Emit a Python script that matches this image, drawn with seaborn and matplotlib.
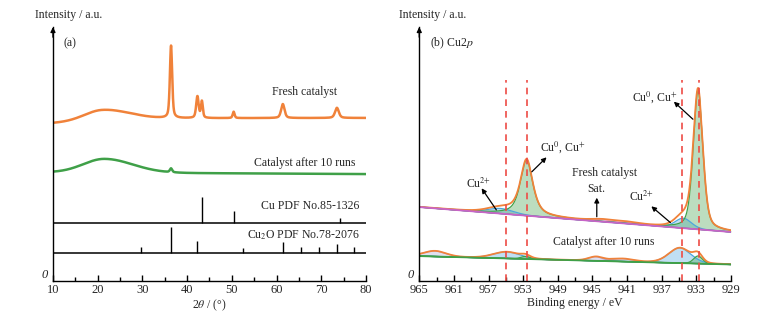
import numpy as np
import pandas as pd
import matplotlib
matplotlib.use("Agg")
import matplotlib.pyplot as plt
import seaborn as sns

# ---- XRD (a): peak parameters (intensity in a.u., 0-100 frame) ----
two_theta_range = [10, 80]

fresh_bg_x = [10, 28, 80]
fresh_bg_y = [62.2, 64.1, 64.2]
fresh_hump = [21.0, 4.0, 4.0, 5.5]          # centre, height, sigma left, sigma right
fresh_pos = [36.4, 42.3, 43.3, 50.4, 61.4, 73.5]
fresh_int = [28.5, 8.5, 6.5, 2.5, 5.5, 4.0]
fresh_fwhm = [0.6, 0.65, 0.5, 0.5, 0.9, 1.0]

used_bg_x = [10, 80]
used_bg_y = [42.8, 42.1]
used_hump = [21.5, 5.4, 4.7, 6.3]
used_pos = [36.4]
used_int = [1.5]
used_fwhm = [0.6]

cu_pdf_base = 23.0
cu_pdf_pos = [43.3, 50.4, 74.1]
cu_pdf_int = [10.2, 4.7, 1.9]

cu2o_pdf_base = 11.0
cu2o_pdf_pos = [29.6, 36.4, 42.3, 52.5, 61.4, 65.5, 69.6, 73.5, 77.4]
cu2o_pdf_int = [2.5, 10.3, 4.9, 2.1, 4.2, 2.2, 2.2, 3.6, 2.4]

# ---- XPS (b) Cu2p: fitted components ----
be_range = [929, 965]
bg_be = [929, 965]
fresh_xps_bg = [19.3, 29.1]
fresh_cu0_pos = [932.8, 952.6]
fresh_cu0_int = [54.8, 22.0]
fresh_cu0_fwhm = [1.3, 1.7]
fresh_cu0_eta = [0.4, 0.7]
fresh_cu2_pos = [934.5, 955.6]
fresh_cu2_int = [3.9, 2.0]
fresh_cu2_fwhm = [2.2, 3.5]
fresh_sat_pos = [943.8, 941.0]
fresh_sat_int = [0.8, 0.6]
fresh_sat_fwhm = [3.0, 3.0]

used_xps_bg = [6.5, 9.8]
used_cu0_pos = [932.8, 952.7]
used_cu0_int = [3.0, 1.0]
used_cu0_fwhm = [1.2, 1.2]
used_cu2_pos = [934.9, 954.9]
used_cu2_int = [6.0, 2.6]
used_cu2_fwhm = [3.0, 3.6]
used_sat_pos = [963.2, 944.6, 941.5]
used_sat_int = [2.2, 1.6, 1.1]
used_sat_fwhm = [3.0, 2.0, 3.0]

dashed_be = [955.0, 952.6, 934.7, 932.7]

c_orange = '#F0823A'
c_green = '#3FA048'
c_blue = '#4DA6DD'
c_magenta = '#C864C8'
c_lav = '#A8A4D4'
c_red = '#EE4B45'


def pv(x, c, h, w, eta=0.3):
    lor = 1.0 / (1.0 + ((x - c) / (w / 2.0)) ** 2)
    gau = np.exp(-4 * np.log(2) * ((x - c) / w) ** 2)
    return h * (eta * lor + (1 - eta) * gau)


def hump(x, c, h, sl, sr):
    s = np.where(x < c, sl, sr)
    return h * np.exp(-0.5 * ((x - c) / s) ** 2)


def xrd_curve(x, bgx, bgy, hp, pos, inten, fw):
    y = np.interp(x, bgx, bgy) + hump(x, *hp)
    for c, h, w in zip(pos, inten, fw):
        y = y + pv(x, c, h, w, 0.5)
    return y


sns.set_theme(style='ticks')
plt.rcParams['font.family'] = ['Liberation Serif', 'DejaVu Serif']
plt.rcParams['mathtext.fontset'] = 'stix'
fs = 8.5

fig = plt.figure(figsize=(7.59, 3.18), dpi=100)
ax1 = fig.add_axes([0.0698, 0.1164, 0.4124, 0.7986])
ax2 = fig.add_axes([0.5524, 0.1164, 0.4107, 0.7986])

# ---------------- (a) XRD ----------------
tt = np.linspace(two_theta_range[0], two_theta_range[1], 3501)
df_xrd = pd.DataFrame({
    'tt': tt,
    'fresh': xrd_curve(tt, fresh_bg_x, fresh_bg_y, fresh_hump, fresh_pos, fresh_int, fresh_fwhm),
    'used': xrd_curve(tt, used_bg_x, used_bg_y, used_hump, used_pos, used_int, used_fwhm),
})
sns.lineplot(data=df_xrd, x='tt', y='fresh', ax=ax1, color=c_orange, lw=1.8, sort=False)
sns.lineplot(data=df_xrd, x='tt', y='used', ax=ax1, color=c_green, lw=1.8, sort=False)

ax1.hlines([cu_pdf_base, cu2o_pdf_base], 10, 80, color='black', lw=1.1)
ax1.vlines(cu_pdf_pos, cu_pdf_base, [cu_pdf_base + v for v in cu_pdf_int], color='black', lw=1.0)
ax1.vlines(cu2o_pdf_pos, cu2o_pdf_base, [cu2o_pdf_base + v for v in cu2o_pdf_int], color='black', lw=1.0)

ax1.text(73.5, 74.4, 'Fresh catalyst', ha='right', va='center', fontsize=fs)
ax1.text(77.6, 46.5, 'Catalyst after 10 runs', ha='right', va='center', fontsize=fs)
ax1.text(78.5, 29.5, 'Cu PDF No.85-1326', ha='right', va='center', fontsize=fs)
ax1.text(78.5, 18.1, 'Cu$_2$O PDF No.78-2076', ha='right', va='center', fontsize=fs)
ax1.text(13.9, 93.7, '(a)', ha='center', va='center', fontsize=fs)

ax1.set_xlim(10, 80)
ax1.set_xticks(range(10, 81, 10))
ax1.set_xticks(range(15, 80, 10), minor=True)
ax1.set_xlabel(r'2$\theta$ / (°)', fontsize=fs, labelpad=1)

# ---------------- (b) XPS ----------------
be = np.linspace(be_range[0], be_range[1], 2001)


def xps_panel(ax, bg, cu0, cu2, sat, bg_color):
    base = np.interp(be, bg_be, bg)
    comps = []
    for pos, inten, fw, col in sat:
        for c, h, w in zip(pos, inten, fw):
            comps.append((pv(be, c, h, w, 0.2), col))
    for c, h, w in zip(cu2[0], cu2[1], cu2[2]):
        comps.append((pv(be, c, h, w, 0.2), c_blue))
    for c, h, w, e in zip(cu0[0], cu0[1], cu0[2], cu0[3]):
        comps.append((pv(be, c, h, w, e), c_green))
    total = base.copy()
    for comp, col in comps:
        ax.fill_between(be, base, base + comp, color=col, alpha=0.35, lw=0)
        sns.lineplot(x=be, y=base + comp, ax=ax, color=col, lw=0.9, sort=False)
        total = total + comp
    sns.lineplot(x=be, y=total, ax=ax, color=c_orange, lw=1.3, sort=False)
    sns.lineplot(x=be, y=base, ax=ax, color=bg_color, lw=1.3, sort=False)


xps_panel(ax2, fresh_xps_bg,
          (fresh_cu0_pos, fresh_cu0_int, fresh_cu0_fwhm, fresh_cu0_eta),
          (fresh_cu2_pos, fresh_cu2_int, fresh_cu2_fwhm),
          [(fresh_sat_pos, fresh_sat_int, fresh_sat_fwhm, '#E89AD0')],
          c_magenta)
xps_panel(ax2, used_xps_bg,
          (used_cu0_pos, used_cu0_int, used_cu0_fwhm, [0.2, 0.2]),
          (used_cu2_pos, used_cu2_int, used_cu2_fwhm),
          [(used_sat_pos, used_sat_int, used_sat_fwhm, c_lav)],
          c_green)

ax2.vlines(dashed_be, 0, 79, color=c_red, lw=1.2, linestyles=(0, (4, 3)))

arrow = dict(arrowstyle='-|>', color='black', lw=0.9, mutation_scale=7, shrinkA=0, shrinkB=0)
ax2.annotate('', xy=(935.6, 70.6), xytext=(933.4, 63.7), arrowprops=arrow)
ax2.text(937.8, 72.6, 'Cu$^{0}$, Cu$^{{+}}$', ha='center', va='center', fontsize=fs)
ax2.annotate('', xy=(950.3, 48.7), xytext=(952.0, 43.0), arrowprops=arrow)
ax2.text(948.4, 52.9, 'Cu$^{0}$, Cu$^{{+}}$', ha='center', va='center', fontsize=fs)
ax2.annotate('', xy=(944.5, 32.8), xytext=(944.5, 25.3), arrowprops=arrow)
ax2.text(944.6, 36.1, 'Sat.', ha='center', va='center', fontsize=fs)
ax2.annotate('', xy=(938.2, 29.4), xytext=(936.0, 23.0), arrowprops=arrow)
ax2.text(939.3, 33.2, 'Cu$^{2{+}}$', ha='center', va='center', fontsize=fs)
ax2.annotate('', xy=(957.8, 36.5), xytext=(956.1, 28.0), arrowprops=arrow)
ax2.text(958.1, 38.3, 'Cu$^{2{+}}$', ha='center', va='center', fontsize=fs)
ax2.text(943.6, 42.4, 'Fresh catalyst', ha='center', va='center', fontsize=fs)
ax2.text(943.7, 15.2, 'Catalyst after 10 runs', ha='center', va='center', fontsize=fs)
ax2.text(963.8, 93.7, '(b) Cu2$p$', ha='left', va='center', fontsize=fs)

ax2.set_xlim(965, 929)
ax2.set_xticks(range(965, 928, -4))
ax2.set_xticks(range(963, 930, -4), minor=True)
ax2.set_xlabel('Binding energy / eV', fontsize=fs, labelpad=1)

# common axis styling
for ax in (ax1, ax2):
    ax.set_ylim(0, 100)
    ax.set_yticks([])
    ax.set_ylabel('')
    sns.despine(ax=ax)
    for s in ('left', 'bottom'):
        ax.spines[s].set_color('black')
        ax.spines[s].set_linewidth(1.0)
    ax.tick_params(axis='x', which='major', direction='in', length=4, width=1,
                   labelsize=9, pad=2, color='black')
    ax.tick_params(axis='x', which='minor', direction='in', length=3, width=1, color='black')
    ax.annotate('', xy=(0, 1.0), xytext=(0, 0.96), xycoords='axes fraction',
                arrowprops=dict(arrowstyle='-|>', color='black', lw=1, mutation_scale=7,
                                shrinkA=0, shrinkB=0))
    ax.text(-0.018, 0.025, '0', transform=ax.transAxes, ha='right', va='center',
            fontsize=9, fontstyle='italic')
    ax.set_facecolor('white')

ax1.text(-0.0575, 1.047, 'Intensity / a.u.', transform=ax1.transAxes,
         ha='left', va='center', fontsize=fs)
ax2.text(-0.065, 1.047, 'Intensity / a.u.', transform=ax2.transAxes,
         ha='left', va='center', fontsize=fs)

fig.savefig('out.png', dpi=100, facecolor='white')
